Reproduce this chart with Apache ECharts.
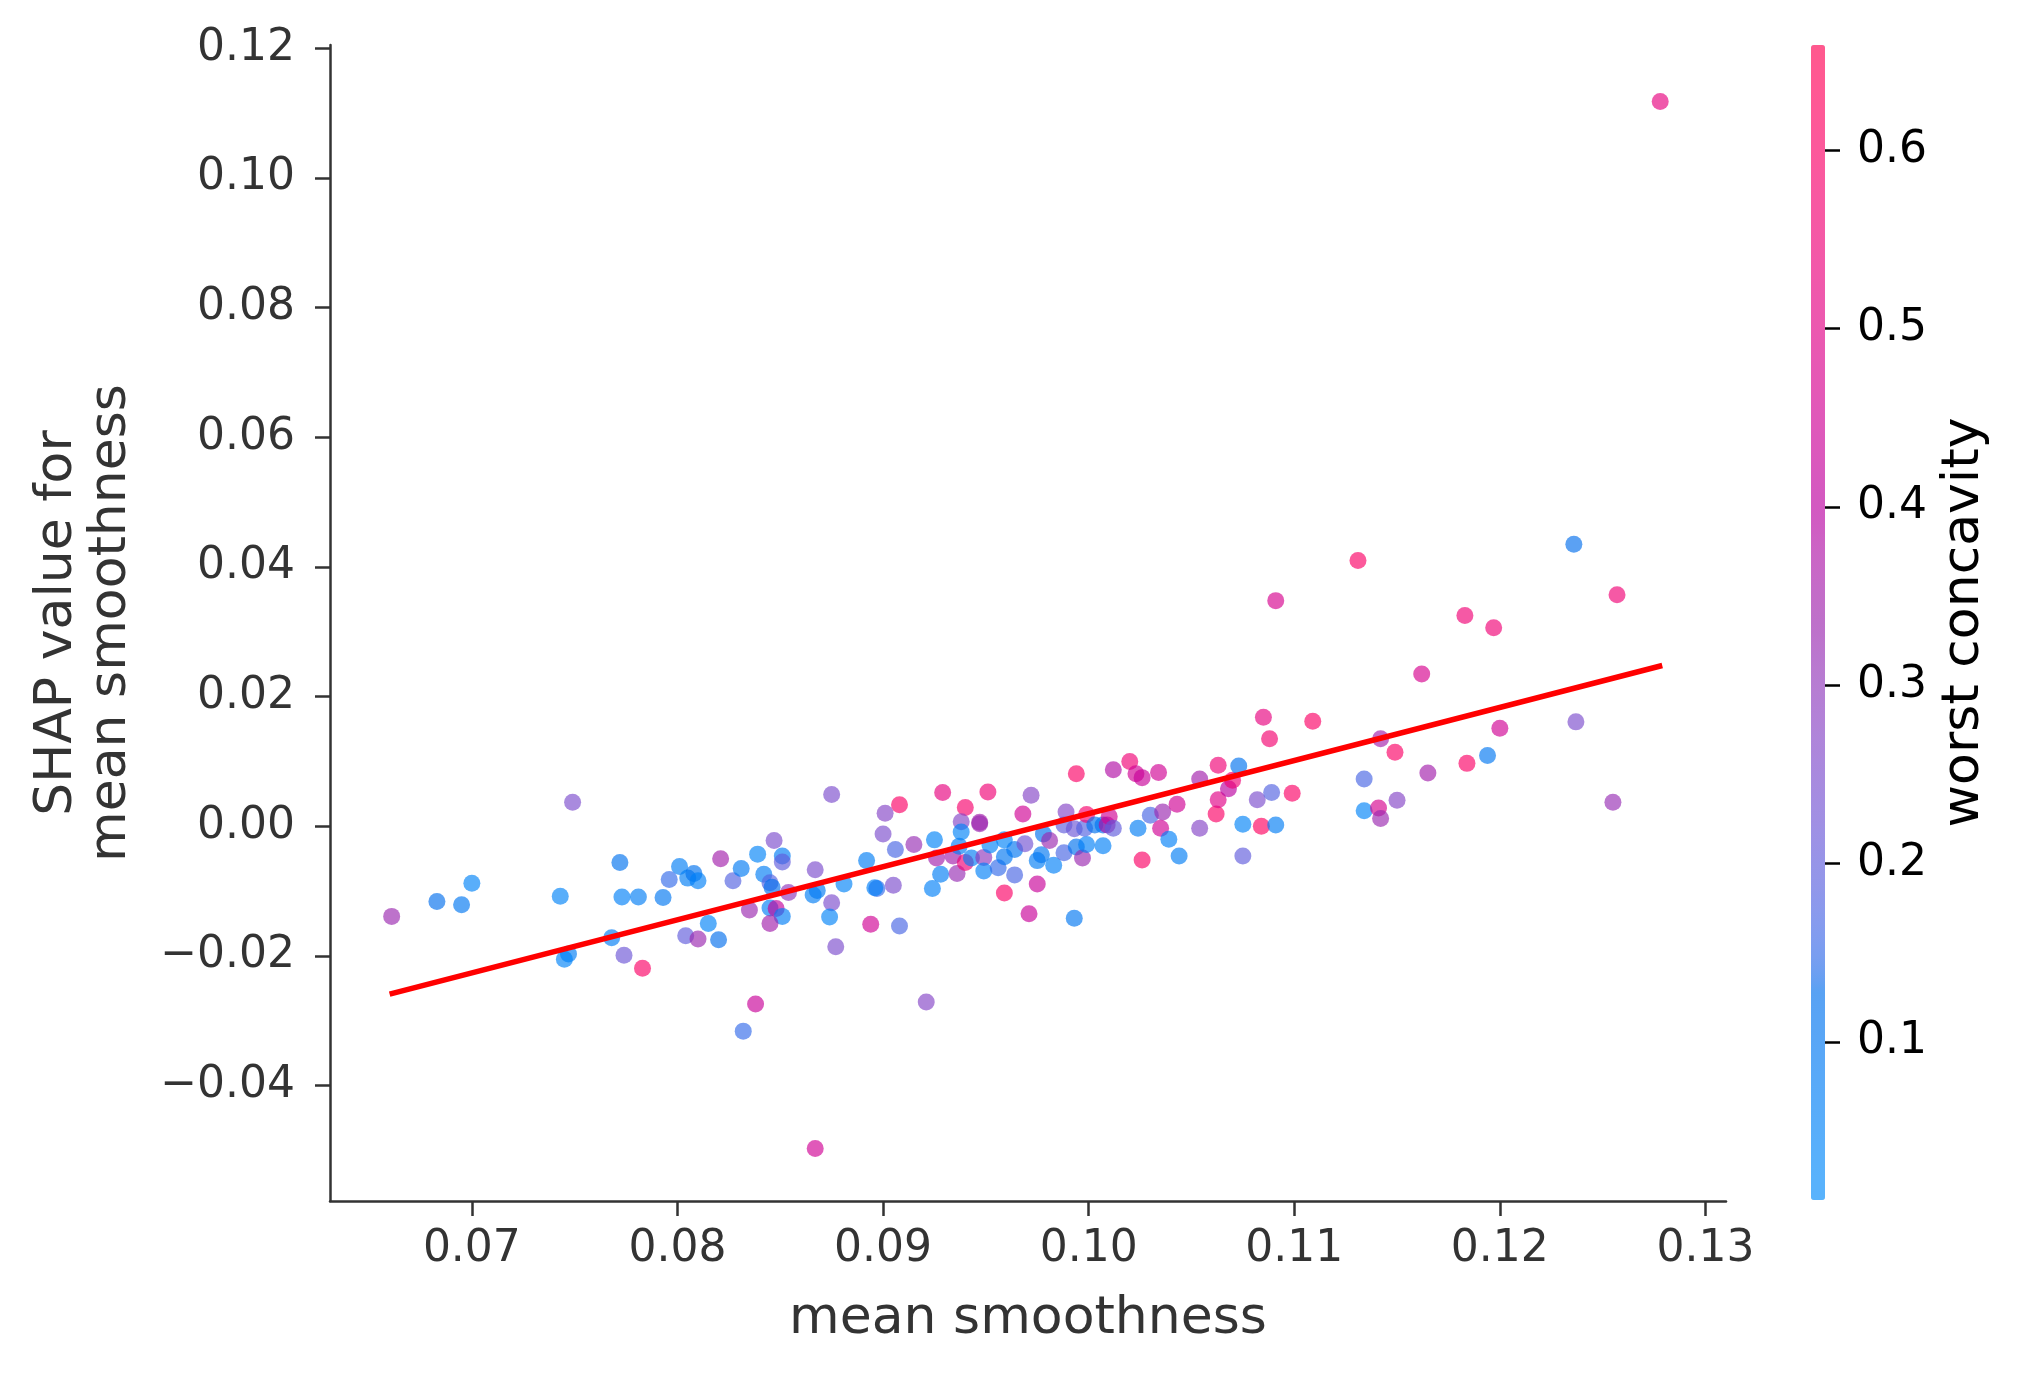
<!DOCTYPE html>
<html><head><meta charset="utf-8">
<script src="https://cdn.jsdelivr.net/npm/echarts@6/dist/echarts.min.js"></script>
<style>html,body{margin:0;padding:0;background:#fff}#c{width:2026px;height:1374px}</style>
</head><body><div id="c"></div>
<script>
const meanSmoothness = [
0.0749,0.0661,0.0683,0.0695,0.0700,0.0743,0.0772,0.0773,0.0781,0.0793,
0.0801,0.0796,0.0805,0.0808,0.0810,0.0821,0.0827,0.0831,0.0839,0.0842,
0.0847,0.0851,0.0851,0.0845,0.0846,0.0854,0.0835,0.0845,0.0848,0.0851,
0.0845,0.0815,0.0804,0.0810,0.0820,0.0768,0.0747,0.0745,0.0774,0.0783,
0.0838,0.0832,0.0875,0.0867,0.0866,0.0868,0.0875,0.0874,0.0877,0.0881,
0.0892,0.0897,0.0896,0.0905,0.0894,0.0908,0.0901,0.0900,0.0908,0.0906,
0.0915,0.0925,0.0926,0.0928,0.0924,0.0936,0.0929,0.0940,0.0938,0.0938,
0.0947,0.0951,0.0934,0.0937,0.0940,0.0943,0.0949,0.0949,0.0952,0.0956,
0.0959,0.0959,0.0964,0.0964,0.0969,0.0968,0.0972,0.0959,0.0975,0.0971,
0.0975,0.0977,0.0978,0.0981,0.0983,0.0988,0.0989,0.0994,0.0988,0.0993,
0.0994,0.0997,0.0999,0.0998,0.0999,0.1003,0.1007,0.1007,0.1009,0.1010,
0.1012,0.1012,0.1020,0.1023,0.1026,0.1034,0.1024,0.1026,0.1030,0.1036,
0.1035,0.1039,0.1044,0.1043,0.1054,0.1054,0.1062,0.1063,0.1063,0.1068,
0.1070,0.1073,0.1075,0.1075,0.1082,0.1084,0.1088,0.1085,0.1089,0.1091,
0.0867,0.0921,0.0993,0.1236,0.1131,0.1091,0.1257,0.1183,0.1197,0.1162,
0.1109,0.1142,0.1149,0.1200,0.1237,0.1194,0.1184,0.1165,0.1134,0.1099,
0.1134,0.1141,0.1142,0.1150,0.1255,0.1278,0.0947
];
const shapValues = [
0.0037,-0.0139,-0.0116,-0.0121,-0.0088,-0.0108,-0.0056,-0.0109,-0.0109,-0.0110,
-0.0062,-0.0082,-0.0080,-0.0073,-0.0084,-0.0050,-0.0084,-0.0065,-0.0043,-0.0074,
-0.0022,-0.0046,-0.0055,-0.0087,-0.0094,-0.0102,-0.0129,-0.0126,-0.0127,-0.0139,
-0.0150,-0.0150,-0.0169,-0.0174,-0.0175,-0.0172,-0.0197,-0.0205,-0.0199,-0.0219,
-0.0274,-0.0316,0.0049,-0.0067,-0.0106,-0.0099,-0.0118,-0.0140,-0.0186,-0.0089,
-0.0053,-0.0096,-0.0095,-0.0091,-0.0151,-0.0154,0.0020,-0.0012,0.0033,-0.0036,
-0.0028,-0.0021,-0.0049,-0.0074,-0.0096,-0.0073,0.0052,0.0029,0.0007,-0.0009,
0.0006,0.0053,-0.0046,-0.0031,-0.0056,-0.0049,-0.0048,-0.0069,-0.0029,-0.0064,
-0.0047,-0.0021,-0.0036,-0.0075,-0.0027,0.0019,0.0048,-0.0103,-0.0089,-0.0135,
-0.0053,-0.0044,-0.0012,-0.0022,-0.0060,-0.0041,0.0022,0.0081,0.0002,-0.0004,
-0.0032,-0.0049,-0.0028,-0.0003,0.0018,0.0002,-0.0030,0.0002,0.0002,0.0015,
-0.0003,0.0087,0.0100,0.0081,0.0075,0.0083,-0.0003,-0.0052,0.0017,0.0022,
-0.0003,-0.0020,-0.0046,0.0034,-0.0003,0.0073,0.0019,0.0041,0.0094,0.0058,
0.0071,0.0093,0.0003,-0.0046,0.0041,0.0000,0.0135,0.0168,0.0052,0.0002,
-0.0497,-0.0271,-0.0142,0.0435,0.0410,0.0348,0.0357,0.0325,0.0306,0.0235,
0.0162,0.0135,0.0114,0.0151,0.0161,0.0109,0.0097,0.0082,0.0073,0.0051,
0.0024,0.0028,0.0012,0.0040,0.0037,0.1118,0.0004
];
const worstConcavity = [
0.25,0.33,0.13,0.10,0.05,0.05,0.12,0.06,0.08,0.10,
0.08,0.15,0.08,0.12,0.06,0.35,0.18,0.09,0.05,0.08,
0.25,0.08,0.20,0.18,0.13,0.30,0.33,0.07,0.42,0.07,
0.35,0.05,0.20,0.33,0.13,0.08,0.08,0.05,0.22,0.60,
0.43,0.15,0.25,0.25,0.08,0.09,0.25,0.05,0.25,0.05,
0.08,0.15,0.06,0.25,0.45,0.17,0.27,0.25,0.60,0.17,
0.32,0.05,0.35,0.08,0.06,0.32,0.52,0.58,0.27,0.05,
0.35,0.55,0.35,0.08,0.55,0.08,0.30,0.06,0.05,0.15,
0.10,0.05,0.10,0.17,0.23,0.45,0.27,0.60,0.43,0.43,
0.08,0.10,0.12,0.33,0.06,0.17,0.27,0.60,0.20,0.22,
0.12,0.33,0.06,0.18,0.58,0.12,0.06,0.10,0.38,0.45,
0.20,0.38,0.55,0.45,0.43,0.45,0.08,0.60,0.17,0.33,
0.45,0.06,0.08,0.45,0.27,0.35,0.60,0.50,0.55,0.40,
0.55,0.12,0.05,0.20,0.25,0.62,0.57,0.52,0.18,0.08,
0.45,0.27,0.10,0.13,0.60,0.47,0.55,0.55,0.55,0.47,
0.60,0.35,0.60,0.45,0.25,0.10,0.60,0.35,0.17,0.60,
0.05,0.47,0.33,0.27,0.32,0.52,0.33
];
const xTicks = [0.07, 0.08, 0.09, 0.10, 0.11, 0.12, 0.13];
const yTicks = [-0.04, -0.02, 0.00, 0.02, 0.04, 0.06, 0.08, 0.10, 0.12];
const cTicks = [0.1, 0.2, 0.3, 0.4, 0.5, 0.6];
const fitX = [0.0660, 0.1279];
const fitY = [-0.0259, 0.0248];
const xRange = [0.0631, 0.131];
const yRange = [-0.0578, 0.1205];
const cRange = [0.0114, 0.659];

// SHAP red_blue colormap (LCH interpolation)
function lch2rgb(L, C, h) {
  const a = C * Math.cos(h), b = C * Math.sin(h);
  const fy = (L + 16) / 116, fx = fy + a / 500, fz = fy - b / 200;
  const finv = t => (t * t * t > 0.008856 ? t * t * t : (t - 16 / 116) / 7.787);
  const X = 0.95047 * finv(fx), Y = finv(fy), Z = 1.08883 * finv(fz);
  let r = 3.2406 * X - 1.5372 * Y - 0.4986 * Z;
  let g = -0.9689 * X + 1.8758 * Y + 0.0415 * Z;
  let bb = 0.0557 * X - 0.2040 * Y + 1.0570 * Z;
  const gam = c => { c = c > 0.0031308 ? 1.055 * Math.pow(c, 1 / 2.4) - 0.055 : 12.92 * c; return Math.min(1, Math.max(0, c)); };
  return [gam(r), gam(g), gam(bb)];
}
const ALPHA = 0.65;
const cmap = [], cmapLight = [];
(function () {
  const n = 100, blue = [54, 70, 4.6588], red = [54, 90, 0.35470565 + 2 * Math.PI], lmid = 40;
  const hex = v => Math.round(v).toString(16).padStart(2, '0');
  for (let i = 0; i < n; i++) {
    const half = n / 2;
    const l = i < half ? blue[0] + (lmid - blue[0]) * i / (half - 1) : lmid + (red[0] - lmid) * (i - half) / (half - 1);
    const c = blue[1] + (red[1] - blue[1]) * i / (n - 1);
    const h = blue[2] + (red[2] - blue[2]) * i / (n - 1);
    const rgb = lch2rgb(l, c, h).map(v => v * 255);
    cmap.push('#' + rgb.map(hex).join(''));
    cmapLight.push('#' + rgb.map(v => hex(v * ALPHA + 255 * (1 - ALPHA))).join(''));
  }
})();

const FONT = 'DejaVu Sans';
const fmt2 = v => (v < 0 ? '\u2212' : '') + Math.abs(v).toFixed(2);

const chart = echarts.init(document.getElementById('c'));
chart.setOption({
  animation: false,
  backgroundColor: '#ffffff',
  grid: [
    { left: 330, top: 45, width: 1396, height: 1156 },
    { left: 1811, top: 45, width: 14, height: 1155 }
  ],
  xAxis: [
    {
      type: 'value', gridIndex: 0, min: xRange[0], max: xRange[1],
      axisLine: { onZero: false, lineStyle: { color: '#333333', width: 2.5 } },
      axisTick: { length: 15, lineStyle: { color: '#333333', width: 2.5 }, customValues: xTicks },
      axisLabel: { customValues: xTicks, formatter: fmt2, fontSize: 44, color: '#333333', fontFamily: FONT, margin: 27 },
      splitLine: { show: false },
      name: 'mean smoothness', nameLocation: 'middle', nameGap: 92,
      nameTextStyle: { fontSize: 52, color: '#333333', fontFamily: FONT }
    },
    { type: 'value', gridIndex: 1, show: false, min: 0, max: 1 }
  ],
  yAxis: [
    {
      type: 'value', gridIndex: 0, min: yRange[0], max: yRange[1],
      axisLine: { onZero: false, lineStyle: { color: '#333333', width: 2.5 } },
      axisTick: { length: 15, lineStyle: { color: '#333333', width: 2.5 }, customValues: yTicks },
      axisLabel: { customValues: yTicks, formatter: fmt2, fontSize: 44, color: '#333333', fontFamily: FONT, margin: 35 },
      splitLine: { show: false },
      name: 'SHAP value for\nmean smoothness', nameLocation: 'middle', nameGap: 192, nameRotate: 90,
      nameTextStyle: { fontSize: 52, color: '#333333', fontFamily: FONT, lineHeight: 54 }
    },
    {
      type: 'value', gridIndex: 1, position: 'right', min: cRange[0], max: cRange[1],
      axisLine: { show: true, onZero: false, lineStyle: { color: 'rgba(0,0,0,0)', width: 0 } },
      axisTick: { show: true, inside: false, length: 15, lineStyle: { color: '#000000', width: 2.5 }, customValues: cTicks },
      axisLabel: { customValues: cTicks, formatter: v => v.toFixed(1), fontSize: 44, color: '#000000', fontFamily: FONT, margin: 32 },
      splitLine: { show: false },
      name: 'worst concavity', nameLocation: 'middle', nameGap: 113, nameRotate: 90,
      nameTextStyle: { fontSize: 52, color: '#000000', fontFamily: FONT }
    }
  ],
  visualMap: {
    type: 'continuous', min: cRange[0], max: cRange[1], dimension: 2, seriesIndex: 0,
    orient: 'vertical', left: 1811, top: 45, itemWidth: 14, itemHeight: 1155, padding: 0,
    calculable: false, hoverLink: false,
    textStyle: { color: 'rgba(0,0,0,0)', fontSize: 1 },
    inRange: { color: cmap },
    controller: { inRange: { color: cmapLight } }
  },
  series: [
    {
      type: 'scatter', xAxisIndex: 0, yAxisIndex: 0, symbolSize: 17, z: 2,
      itemStyle: { opacity: ALPHA },
      data: meanSmoothness.map((x, i) => [x, shapValues[i], worstConcavity[i]])
    },
    {
      type: 'line', xAxisIndex: 0, yAxisIndex: 0, symbol: 'none', z: 3,
      lineStyle: { color: '#ff0000', width: 5.5 },
      data: fitX.map((x, i) => [x, fitY[i]])
    }
  ]
});
</script></body></html>
